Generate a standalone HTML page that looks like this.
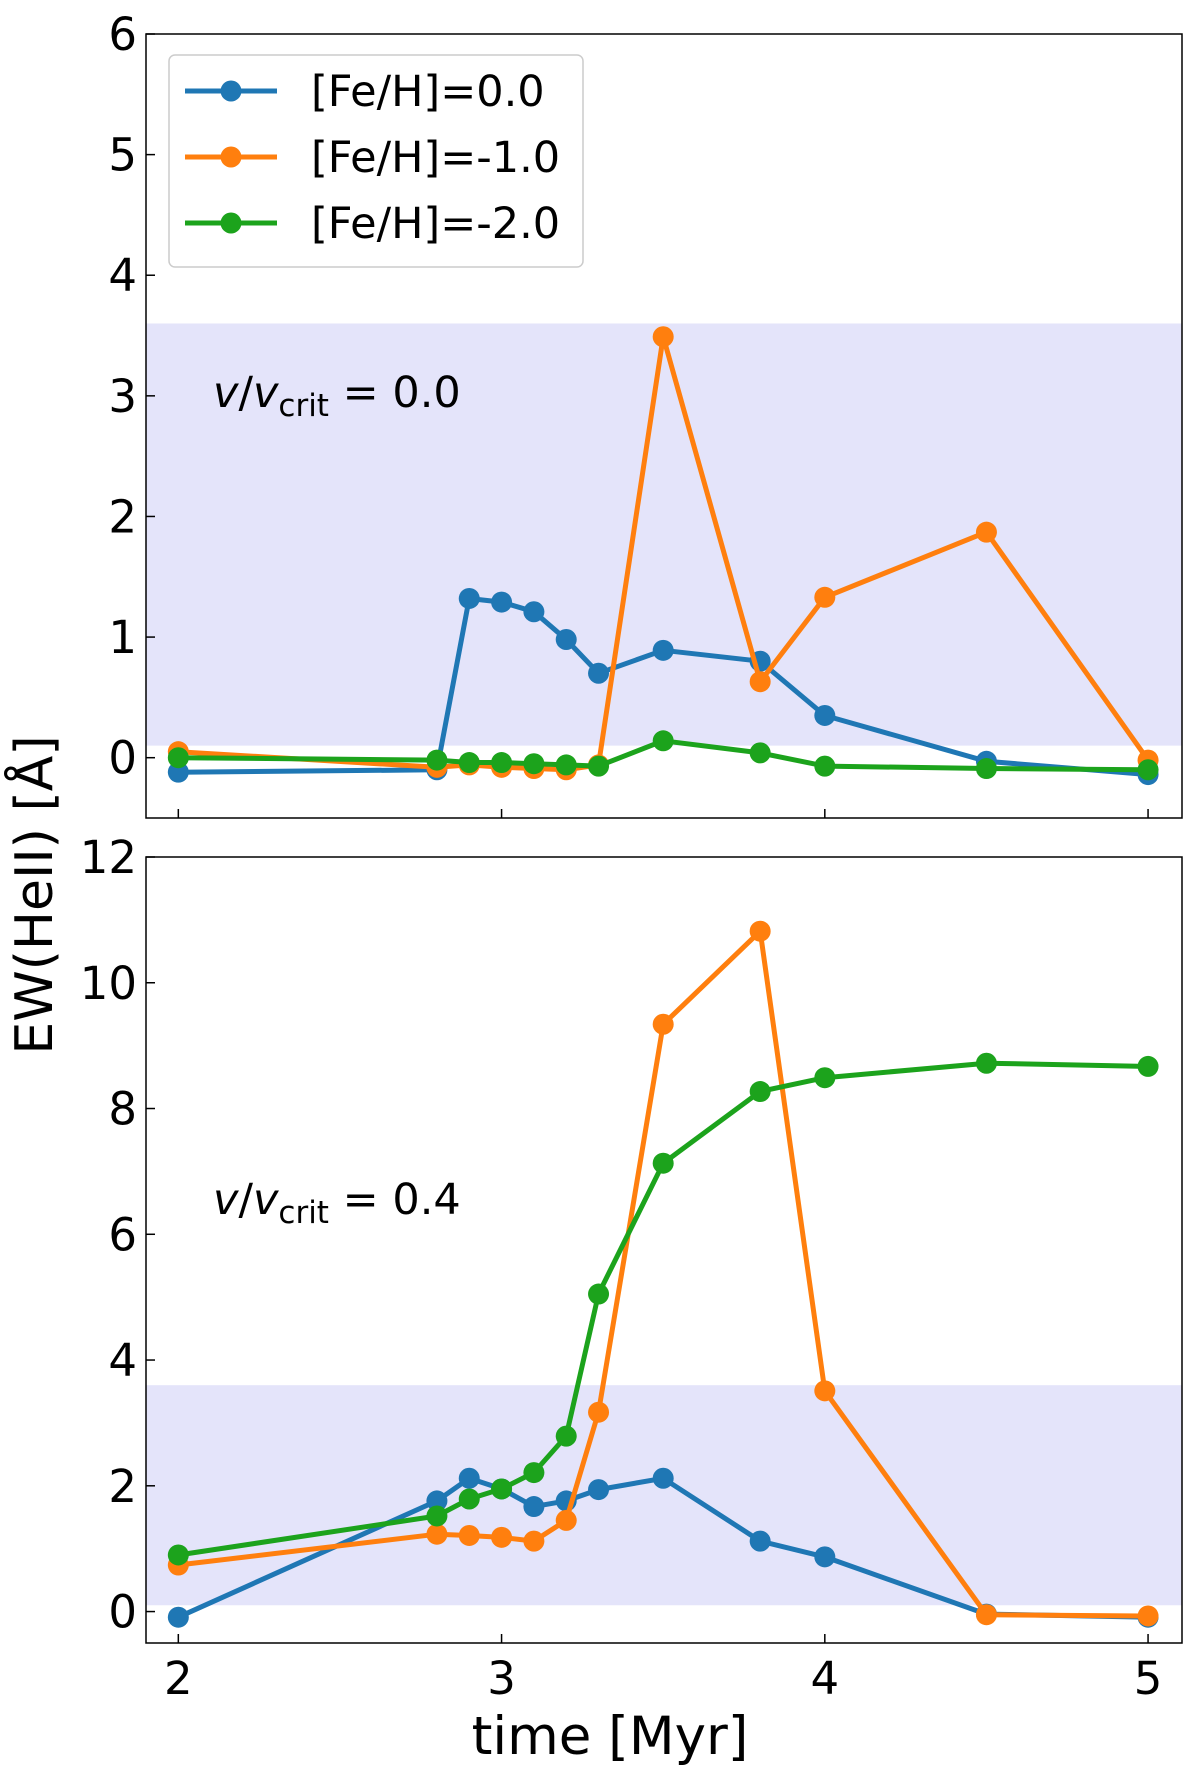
<!DOCTYPE html>
<html><head><meta charset="utf-8"><style>
html,body{margin:0;padding:0;background:#fff;}
svg{display:block;font-family:"DejaVu Sans","Liberation Sans",sans-serif;}
</style></head><body>
<svg id="chart" width="1200" height="1786" viewBox="0 0 1200 1786" xmlns="http://www.w3.org/2000/svg"></svg>
<script>
const times = [2, 2.8, 2.9, 3.0, 3.1, 3.2, 3.3, 3.5, 3.8, 4.0, 4.5, 5.0];
const seriesNames = ["[Fe/H]=0.0", "[Fe/H]=-1.0", "[Fe/H]=-2.0"];
const top_fe00 = [-0.12, -0.10, 1.32, 1.29, 1.21, 0.98, 0.70, 0.89, 0.80, 0.35, -0.03, -0.14];
const top_fe10 = [0.05, -0.08, -0.06, -0.08, -0.09, -0.10, -0.06, 3.49, 0.63, 1.33, 1.87, -0.02];
const top_fe20 = [0.00, -0.02, -0.04, -0.04, -0.05, -0.06, -0.07, 0.14, 0.04, -0.07, -0.09, -0.10];
const bot_fe00 = [-0.09, 1.76, 2.12, 1.95, 1.67, 1.76, 1.94, 2.12, 1.12, 0.87, -0.04, -0.09];
const bot_fe10 = [0.74, 1.23, 1.21, 1.18, 1.12, 1.45, 3.17, 9.34, 10.82, 3.51, -0.05, -0.07];
const bot_fe20 = [0.90, 1.52, 1.79, 1.95, 2.21, 2.79, 5.05, 7.13, 8.27, 8.49, 8.72, 8.67];
const xTicks = [2, 3, 4, 5];
const topYTicks = [0, 1, 2, 3, 4, 5, 6];
const botYTicks = [0, 2, 4, 6, 8, 10, 12];
const band = [0.1, 3.6];

const colors = ["#1f77b4", "#ff7f0e", "#1ca31c"];
const NS = "http://www.w3.org/2000/svg";
const svg = document.getElementById("chart");
const L = 146, R = 1182;
function x(v){ return L + (v - 1.9) / (5.105 - 1.9) * (R - L); }
function mk(tag, attrs, parent){
  const e = document.createElementNS(NS, tag);
  for (const k in attrs) e.setAttribute(k, attrs[k]);
  (parent || svg).appendChild(e);
  return e;
}
function panel(name, top, bottom, ymin, ymax, yticks, data, label){
  const y = v => bottom - (v - ymin) / (ymax - ymin) * (bottom - top);
  const g = mk("g", {});
  
  
  const b = mk("rect", {x: L, y: y(band[1]), width: R - L, height: y(band[0]) - y(band[1]), fill: "#e4e4fa"}, g);
  
  
  data.forEach((vals, si) => {
    const pts = times.map((t, i) => x(t).toFixed(1) + "," + y(vals[i]).toFixed(1)).join(" ");
    const ln = mk("polyline", {points: pts, fill: "none", stroke: colors[si], "stroke-width": 5, "stroke-linejoin": "round"}, g);
    
    
    times.forEach((t, i) => {
      const c = mk("circle", {cx: x(t), cy: y(vals[i]), r: 10.5, fill: colors[si]}, g);
      
      
    });
  });
  const fr = mk("rect", {x: L, y: top, width: R - L, height: bottom - top, fill: "none", stroke: "#000", "stroke-width": 1.5}, g);
  
  
  yticks.forEach(v => {
    mk("line", {x1: L, x2: L + 9, y1: y(v), y2: y(v), stroke: "#000", "stroke-width": 1.5}, g);
    const t = mk("text", {x: 137, y: y(v) + 16, "text-anchor": "end", "font-size": 45, fill: "#000"}, g);
    t.textContent = v;
    
    
  });
  xTicks.forEach(v => {
    mk("line", {x1: x(v), x2: x(v), y1: bottom, y2: bottom - 9, stroke: "#000", "stroke-width": 1.5}, g);
  });
  const lb = mk("text", {x: 213, y: label.y, "font-size": 43, fill: "#000"}, g);
  
  
  lb.innerHTML = '<tspan font-style="italic">v</tspan>/<tspan font-style="italic">v</tspan><tspan font-size="31" dy="9">crit</tspan><tspan dy="-9"> = ' + label.val + '</tspan>';
  return y;
}
panel("top-panel", 34, 818, -0.5, 6, topYTicks, [top_fe00, top_fe10, top_fe20], {y: 407, val: "0.0"});
panel("bottom-panel", 857, 1643, -0.5, 12, botYTicks, [bot_fe00, bot_fe10, bot_fe20], {y: 1214, val: "0.4"});
xTicks.forEach(v => {
  const t = mk("text", {x: x(v), y: 1694, "text-anchor": "middle", "font-size": 45, fill: "#000"});
  t.textContent = v;
  
  
});
const xl = mk("text", {x: 610, y: 1754, "text-anchor": "middle", "font-size": 53, fill: "#000"});
xl.textContent = "time [Myr]";


const yl = mk("text", {x: 0, y: 0, "text-anchor": "middle", "font-size": 52, fill: "#000", transform: "translate(52,895) rotate(-90)"});
yl.textContent = "EW(HeII) [Å]";


// legend
const lg = mk("g", {});


mk("rect", {x: 169, y: 55, width: 414, height: 212, rx: 6, fill: "#fff", "fill-opacity": 0.85, stroke: "#ccc", "stroke-width": 1.5}, lg);
seriesNames.forEach((n, i) => {
  const yy = 91 + i * 66;
  const e = mk("g", {}, lg);
  
  
  mk("line", {x1: 185, x2: 277, y1: yy, y2: yy, stroke: colors[i], "stroke-width": 5}, e);
  mk("circle", {cx: 231, cy: yy, r: 10.5, fill: colors[i]}, e);
  const t = mk("text", {x: 311, y: yy + 15, "font-size": 43, fill: "#000"}, e);
  t.textContent = n;
});
</script>
</body></html>
